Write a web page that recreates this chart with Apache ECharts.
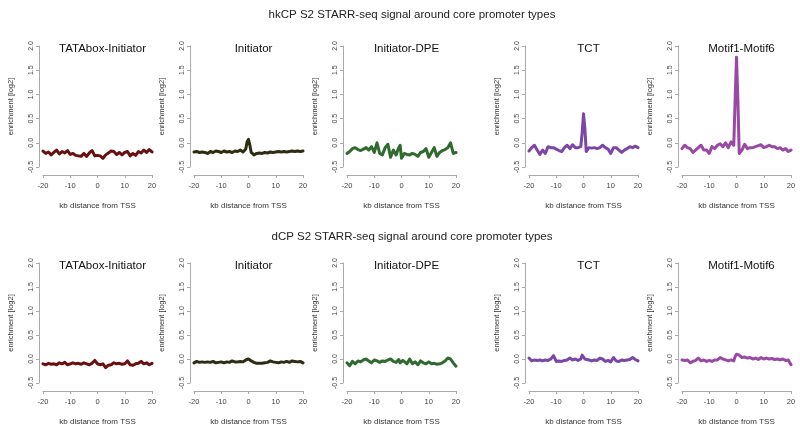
<!DOCTYPE html>
<html><head><meta charset="utf-8">
<script src="https://cdn.jsdelivr.net/npm/echarts@6/dist/echarts.min.js"></script>
<style>html,body{margin:0;padding:0;background:#fff}#c{width:800px;height:427px}</style>
</head><body><div id="c"></div>
<script>
// x positions (kb distance from TSS)
const xKb = [-20,-19,-18,-17,-16,-15,-14,-13,-12,-11,-10,-9,-8,-7,-6,-5,-4,-3,-2,-1,-0.5,0,0.5,1,2,3,4,5,6,7,8,9,10,11,12,13,14,15,16,17,18,19,20];
const xTicks = [-20,-10,0,10,20];
const yTicks = [-0.5,0.0,0.5,1.0,1.5,2.0];
const panelNames = ["TATAbox-Initiator","Initiator","Initiator-DPE","TCT","Motif1-Motif6"];
const rowTitles = ["hkCP S2 STARR-seq signal around core promoter types","dCP S2 STARR-seq signal around core promoter types"];
// hkCP row
const hkTATA = [-0.17,-0.22,-0.19,-0.25,-0.2,-0.15,-0.23,-0.18,-0.21,-0.16,-0.24,-0.22,-0.26,-0.27,-0.28,-0.22,-0.28,-0.21,-0.16,-0.27,-0.25,-0.26,-0.28,-0.27,-0.32,-0.25,-0.21,-0.17,-0.18,-0.24,-0.2,-0.25,-0.2,-0.18,-0.27,-0.22,-0.26,-0.18,-0.21,-0.15,-0.2,-0.14,-0.19];
const hkInr = [-0.19,-0.18,-0.2,-0.19,-0.2,-0.22,-0.18,-0.2,-0.17,-0.18,-0.2,-0.17,-0.19,-0.18,-0.2,-0.17,-0.18,-0.15,-0.19,-0.13,0.02,0.07,-0.05,-0.2,-0.25,-0.22,-0.21,-0.22,-0.2,-0.21,-0.19,-0.2,-0.19,-0.18,-0.19,-0.18,-0.19,-0.18,-0.17,-0.18,-0.17,-0.18,-0.17];
const hkDPE = [-0.22,-0.18,-0.12,-0.1,-0.14,-0.16,-0.13,-0.1,-0.15,-0.08,-0.2,0.0,-0.22,-0.25,-0.1,-0.03,-0.3,-0.15,-0.25,-0.1,-0.05,-0.32,-0.35,-0.22,-0.24,-0.25,-0.22,-0.24,-0.28,-0.2,-0.18,-0.12,-0.3,-0.2,-0.1,-0.28,-0.2,-0.16,-0.14,-0.1,0.0,-0.22,-0.2];
const hkTCT = [-0.17,-0.1,-0.05,-0.15,-0.24,-0.15,-0.22,-0.08,-0.1,-0.1,-0.13,-0.16,-0.18,-0.1,-0.05,-0.12,-0.04,-0.1,-0.1,-0.08,0.2,0.6,0.3,-0.18,-0.1,-0.11,-0.1,-0.12,-0.1,-0.05,-0.1,-0.13,-0.22,-0.1,-0.1,-0.15,-0.2,-0.15,-0.12,-0.08,-0.1,-0.07,-0.1];
const hkMotif = [-0.12,-0.05,-0.1,-0.12,-0.2,-0.15,-0.1,-0.05,-0.15,-0.15,-0.22,-0.08,-0.12,-0.05,-0.02,-0.08,0.0,-0.1,0.02,-0.05,0.9,1.77,0.9,-0.22,-0.15,-0.03,-0.12,-0.1,-0.1,-0.08,-0.06,-0.04,-0.1,-0.08,-0.05,-0.08,-0.08,-0.12,-0.1,-0.15,-0.12,-0.18,-0.15];
// dCP row
const dTATA = [-0.1,-0.12,-0.09,-0.11,-0.1,-0.12,-0.08,-0.1,-0.07,-0.12,-0.1,-0.08,-0.1,-0.09,-0.11,-0.08,-0.1,-0.12,-0.09,-0.03,-0.06,-0.1,-0.08,-0.12,-0.1,-0.18,-0.13,-0.12,-0.08,-0.1,-0.09,-0.11,-0.1,-0.04,-0.12,-0.13,-0.1,-0.09,-0.05,-0.1,-0.08,-0.12,-0.09];
const dInr = [-0.08,-0.05,-0.07,-0.06,-0.07,-0.06,-0.07,-0.05,-0.08,-0.07,-0.06,-0.08,-0.06,-0.07,-0.04,-0.06,-0.06,-0.05,-0.06,-0.02,0.02,0.0,-0.02,-0.04,-0.07,-0.09,-0.09,-0.09,-0.08,-0.07,-0.04,-0.06,-0.07,-0.08,-0.06,-0.07,-0.05,-0.07,-0.04,-0.05,-0.06,-0.05,-0.08];
const dDPE = [-0.08,-0.14,-0.05,-0.1,-0.04,-0.06,-0.02,0.0,-0.04,-0.08,-0.02,-0.04,-0.07,-0.04,-0.05,-0.02,0.0,-0.05,-0.07,-0.01,-0.08,-0.12,-0.03,-0.06,-0.1,0.0,-0.1,-0.06,-0.12,-0.04,-0.08,-0.1,-0.06,-0.1,-0.09,-0.11,-0.1,-0.08,-0.04,0.02,0.0,-0.08,-0.15];
const dTCT = [0.02,-0.04,-0.02,-0.03,-0.02,-0.04,-0.02,-0.03,0.0,0.07,-0.05,-0.04,-0.05,-0.03,-0.02,0.02,-0.02,0.0,-0.03,0.0,0.08,0.12,0.0,-0.03,-0.02,-0.04,-0.02,-0.03,0.02,0.0,-0.05,-0.03,-0.06,0.03,-0.04,-0.05,-0.02,-0.03,-0.02,-0.01,0.03,-0.01,-0.04];
const dMotif = [-0.02,-0.03,-0.02,-0.08,-0.05,-0.03,0.02,-0.04,-0.02,-0.05,-0.03,-0.05,-0.02,-0.02,0.03,0.0,-0.02,-0.04,-0.02,-0.04,0.05,0.1,0.06,0.08,0.03,0.04,0.02,0.03,0.0,0.02,-0.01,0.03,0.0,0.02,0.0,0.01,-0.01,0.0,-0.02,0.0,-0.03,-0.02,-0.12];

const rows = [[hkTATA,hkInr,hkDPE,hkTCT,hkMotif],[dTATA,dInr,dDPE,dTCT,dMotif]];
const colors = ["#6a0f0f","#2e2c12","#2f6a2e","#7b46a6","#9a48a6"];
const lefts = [43,194,347,529,682];
const W = 109;
const tops = [46,263];
const heights = [121,120];
const FONT = "Liberation Sans, Arial, Helvetica, sans-serif";

const grid=[], xAxis=[], yAxis=[], series=[], title=[];
rowTitles.forEach((t,r)=>{
  title.push({text:t,left:407,top:r===0?4:226,textAlign:'center',
    textStyle:{fontFamily:FONT,fontSize:11.5,fontWeight:'normal',color:'#222'}});
});
for(let r=0;r<2;r++){
  for(let c=0;c<5;c++){
    const gi=r*5+c;
    grid.push({left:lefts[c],top:tops[r],width:W,height:heights[r]});
    title.push({text:panelNames[c],left:lefts[c]+W/2,top:tops[r]-8,textAlign:'center',
      textStyle:{fontFamily:FONT,fontSize:11.5,fontWeight:'normal',color:'#111'}});
    xAxis.push({type:'value',gridIndex:gi,min:xTicks[0],max:xTicks[xTicks.length-1],interval:10,offset:8,
      axisLine:{show:true,onZero:false,lineStyle:{color:'#aaa',width:1}},
      axisTick:{show:true,length:3,lineStyle:{color:'#aaa'}},
      axisLabel:{fontFamily:FONT,fontSize:7.5,color:'#444',margin:7},
      splitLine:{show:false},
      name:'kb distance from TSS',nameLocation:'middle',nameGap:27,
      nameTextStyle:{fontFamily:FONT,fontSize:8,color:'#333'}});
    yAxis.push({type:'value',gridIndex:gi,min:yTicks[0],max:yTicks[yTicks.length-1],interval:0.5,offset:4,
      axisLine:{show:true,onZero:false,lineStyle:{color:'#aaa',width:1}},
      axisTick:{show:true,length:3,lineStyle:{color:'#aaa'}},
      axisLabel:{fontFamily:FONT,fontSize:7,color:'#444',margin:4,rotate:90,formatter:v=>v.toFixed(1)},
      splitLine:{show:false},
      name:'enrichment [log2]',nameLocation:'middle',nameGap:24,
      nameTextStyle:{fontFamily:FONT,fontSize:7.5,color:'#333'}});
    series.push({type:'line',xAxisIndex:gi,yAxisIndex:gi,showSymbol:false,symbol:'none',
      data:xKb.map((x,i)=>[x,rows[r][c][i]]),
      lineStyle:{color:colors[c],width:3,join:'round',cap:'round'},animation:false});
  }
}
const chart=echarts.init(document.getElementById('c'),null,{renderer:'canvas'});
chart.setOption({backgroundColor:'#fff',animation:false,title,grid,xAxis,yAxis,series});
</script></body></html>
